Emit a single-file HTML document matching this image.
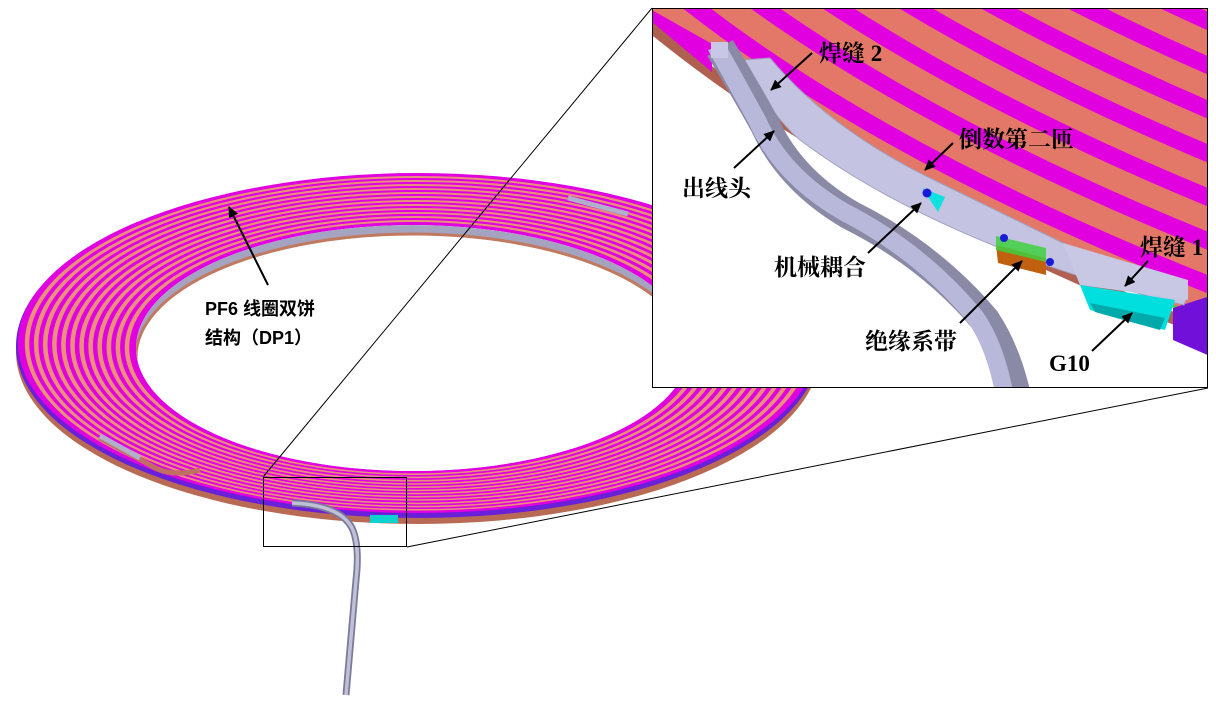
<!DOCTYPE html>
<html><head><meta charset="utf-8"><style>
html,body{margin:0;padding:0;background:#fff;width:1216px;height:711px;overflow:hidden}
svg{display:block}
.lb{font-family:"Liberation Serif","Noto Serif CJK SC",serif;font-weight:bold;font-size:23px;fill:#000}
.ls{font-family:"Liberation Sans","Noto Sans CJK SC",sans-serif;font-weight:bold;font-size:18px;fill:#000}
</style></head><body>
<svg width="1216" height="711" viewBox="0 0 1216 711" xmlns="http://www.w3.org/2000/svg">
<defs>
<marker id="ar" markerWidth="11" markerHeight="10" refX="10" refY="5" orient="auto" markerUnits="userSpaceOnUse"><path d="M0,0 L11,5 L0,10 z" fill="#000"/></marker>
<clipPath id="ic"><rect x="653" y="9" width="554" height="378"/></clipPath>
<clipPath id="hc"><ellipse cx="413" cy="348" rx="277" ry="123"/></clipPath>
<mask id="hole"><rect width="1216" height="711" fill="#fff"/><ellipse cx="413" cy="348" rx="277" ry="123" fill="#000"/></mask>
<path id="E" d="M600,-30 Q820,175 1260,340"/>
</defs>
<!-- ring body -->
<g mask="url(#hole)">
<ellipse cx="418" cy="352" rx="402" ry="172" fill="#b86a55"/>
<ellipse cx="418" cy="346" rx="402" ry="172" fill="#6a20d8"/>
<ellipse cx="418" cy="343" rx="400" ry="170" fill="#e000e0"/>
<ellipse cx="417.7" cy="343.3" rx="392.9" ry="167.3" fill="#e8907a"/>
<ellipse cx="417.5" cy="343.5" rx="388.2" ry="165.5" fill="#e000e0"/>
<ellipse cx="417.3" cy="343.7" rx="383.4" ry="163.7" fill="#e8907a"/>
<ellipse cx="417.1" cy="343.9" rx="378.7" ry="161.9" fill="#e000e0"/>
<ellipse cx="416.9" cy="344.1" rx="374.0" ry="160.1" fill="#e8907a"/>
<ellipse cx="416.8" cy="344.3" rx="369.3" ry="158.3" fill="#e000e0"/>
<ellipse cx="416.6" cy="344.4" rx="364.5" ry="156.4" fill="#e8907a"/>
<ellipse cx="416.4" cy="344.6" rx="359.8" ry="154.6" fill="#e000e0"/>
<ellipse cx="416.2" cy="344.8" rx="355.1" ry="152.8" fill="#e8907a"/>
<ellipse cx="416.0" cy="345.0" rx="350.3" ry="151.0" fill="#e000e0"/>
<ellipse cx="415.8" cy="345.2" rx="345.6" ry="149.2" fill="#e8907a"/>
<ellipse cx="415.6" cy="345.4" rx="340.9" ry="147.4" fill="#e000e0"/>
<ellipse cx="415.4" cy="345.6" rx="336.1" ry="145.6" fill="#e8907a"/>
<ellipse cx="415.2" cy="345.8" rx="331.4" ry="143.8" fill="#e000e0"/>
<ellipse cx="415.0" cy="346.0" rx="326.7" ry="142.0" fill="#e8907a"/>
<ellipse cx="414.8" cy="346.2" rx="321.9" ry="140.2" fill="#e000e0"/>
<ellipse cx="414.6" cy="346.4" rx="317.2" ry="138.4" fill="#e8907a"/>
<ellipse cx="414.4" cy="346.6" rx="312.5" ry="136.6" fill="#e000e0"/>
<ellipse cx="414.3" cy="346.8" rx="307.8" ry="134.8" fill="#e8907a"/>
<ellipse cx="414.1" cy="346.9" rx="303.0" ry="133.0" fill="#e000e0"/>
<ellipse cx="413.9" cy="347.1" rx="298.3" ry="131.1" fill="#e8907a"/>
<ellipse cx="413.7" cy="347.3" rx="293.6" ry="129.3" fill="#e000e0"/>
<ellipse cx="413.5" cy="347.5" rx="288.8" ry="127.5" fill="#e8907a"/>
<ellipse cx="413.3" cy="347.7" rx="284.1" ry="125.7" fill="#e000e0"/>
</g>
<!-- hole inner wall -->
<g clip-path="url(#hc)">
<ellipse cx="413" cy="348" rx="277" ry="123" fill="#a4a4c0"/>
<ellipse cx="413" cy="357" rx="277" ry="123" fill="#fff" stroke="#c07a60" stroke-width="3"/>
</g>
<!-- side bits -->
<path d="M568,198 L628,214" stroke="#b0b0cc" stroke-width="5"/>
<path d="M100,438 L150,465 Q170,478 200,470" stroke="#c07060" stroke-width="5" fill="none"/>
<path d="M100,436 L140,458" stroke="#b0b0cc" stroke-width="5"/>
<!-- lead out -->
<path d="M292,503 Q340,505 352,528 Q360,545 356,580 L346,695" fill="none" stroke="#7a7a98" stroke-width="7"/>
<path d="M292,503 Q340,505 352,528 Q360,545 356,580 L346,695" fill="none" stroke="#c0c0d8" stroke-width="3.5"/>
<rect x="370" y="515" width="28" height="8" fill="#10d0d0"/>
<!-- small rect and connectors -->
<rect x="263.5" y="477.5" width="143" height="69" fill="none" stroke="#000" stroke-width="1"/>
<line x1="263" y1="477" x2="652" y2="8" stroke="#000" stroke-width="1"/>
<line x1="407" y1="547" x2="1208" y2="388" stroke="#000" stroke-width="1"/>
<!-- left label -->
<text class="ls" x="205" y="315">PF6 线圈双饼</text>
<text class="ls" x="205" y="344">结构（DP1）</text>
<line x1="268" y1="285" x2="229" y2="207" stroke="#000" stroke-width="2" marker-end="url(#ar)"/>
<!-- inset -->
<rect x="652" y="8" width="556" height="380" fill="#fff"/>
<g clip-path="url(#ic)">
<path d="M600,-30 Q820,175 1260,340 L1260,-200 L600,-200 z" fill="#e47868"/>
<g fill="none" stroke="#e000e0" stroke-width="17">
<use href="#E" transform="translate(17,-29)"/>
<use href="#E" transform="translate(38,-64)"/>
<use href="#E" transform="translate(59,-99)"/>
<use href="#E" transform="translate(80,-134)"/>
<use href="#E" transform="translate(101,-169)"/>
<use href="#E" transform="translate(122,-204)"/>
<use href="#E" transform="translate(143,-239)"/>
<use href="#E" transform="translate(164,-274)"/>
<use href="#E" transform="translate(185,-309)"/>
</g>
<path d="M600,-20 Q820,185 1260,350" fill="none" stroke="#b06050" stroke-width="12" transform="translate(0,2)"/>
<path d="M600,-30 Q820,175 1260,340" fill="none" stroke="#30e030" stroke-width="2.5"/>
<path d="M652,10 L712,44 L712,72 L652,22 z" fill="#e000e0"/>
<path d="M1173,308 L1210,296 L1210,356 L1173,340 z" fill="#7010d8"/>
<path d="M744,60 L770,58 Q830,130 936,181 L1063,243 L1188,294 L1184,305 Q1080,280 1000,248 Q880,200 800,140 Q770,115 744,60 z" fill="#c4c4e2" stroke="#a0a0c0"/>
<path d="M1063,243 L1188,280 L1188,300 L1080,285 z" fill="#c8c8e4"/>
<path d="M1080,285 L1175,300 L1165,330 L1090,310 z" fill="#00dede"/>
<path d="M1090,303 L1165,318 L1160,330 L1095,312 z" fill="#00aaaa"/>
<path d="M922,188 L945,197 L938,212 z" fill="#10e0e0"/>
<path d="M996,245 L1046,258 L1046,275 L998,263 z" fill="#c06010"/>
<path d="M996,236 L1046,248 L1046,262 L996,250 z" fill="#40d040" opacity="0.85"/>
<path d="M720,48 Q740,80 765,125 Q790,180 850,215 Q930,255 985,320 Q1005,350 1015,392" fill="none" stroke="#8a8aa6" stroke-width="30"/>
<path d="M716,46 Q734,78 758,122 Q782,176 844,212 Q922,252 976,318 Q995,346 1004,392" fill="none" stroke="#b8b8da" stroke-width="18"/>
<rect x="711" y="42" width="17" height="16" fill="#c8c8e6"/>
<circle cx="927" cy="193" r="4.5" fill="#1a1ad8"/>
<circle cx="1004" cy="238" r="4" fill="#1a1ad8"/>
<circle cx="1050" cy="262" r="4" fill="#1a1ad8"/>
</g>
<rect x="652.5" y="8.5" width="555" height="379" fill="none" stroke="#000" stroke-width="1"/>
<!-- inset labels -->
<text class="lb" x="819" y="61">焊缝 2</text>
<line x1="812" y1="53" x2="771" y2="90" stroke="#000" stroke-width="2" marker-end="url(#ar)"/>
<text class="lb" x="682" y="196">出线头</text>
<line x1="734" y1="168" x2="774" y2="131" stroke="#000" stroke-width="2" marker-end="url(#ar)"/>
<text class="lb" x="959" y="147">倒数第二匝</text>
<line x1="953" y1="143" x2="925" y2="170" stroke="#000" stroke-width="2" marker-end="url(#ar)"/>
<text class="lb" x="774" y="275">机械耦合</text>
<line x1="868" y1="253" x2="921" y2="203" stroke="#000" stroke-width="2" marker-end="url(#ar)"/>
<text class="lb" x="865" y="349">绝缘系带</text>
<line x1="960" y1="323" x2="1022" y2="261" stroke="#000" stroke-width="2" marker-end="url(#ar)"/>
<text class="lb" x="1140" y="255">焊缝 1</text>
<line x1="1148" y1="261" x2="1125" y2="286" stroke="#000" stroke-width="2" marker-end="url(#ar)"/>
<text class="lb" x="1049" y="371">G10</text>
<line x1="1092" y1="351" x2="1132" y2="313" stroke="#000" stroke-width="2" marker-end="url(#ar)"/>
</svg>
</body></html>
